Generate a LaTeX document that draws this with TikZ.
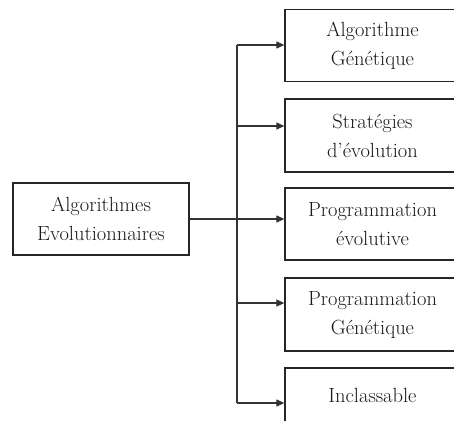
\documentclass[tikz,border=0pt]{standalone}
\usetikzlibrary{arrows.meta}
\begin{document}
\begin{tikzpicture}[x=1pt,y=-1pt,
  box/.style={draw=black!85, line width=1.3pt, minimum width=175pt, minimum height=72pt,
    align=center, inner sep=0pt, font=\fontsize{20.5}{29}\selectfont, text=black!90},
  conn/.style={line width=1.1pt, draw=black!80, -{Triangle[length=8pt,width=7pt]}},
  spine/.style={line width=1.1pt, draw=black!80}]
\useasboundingbox (0,0) rectangle (454,420);
\clip (0,0) rectangle (454,420);
\node[box, minimum width=176pt] (a) at (101,219) {Algorithmes\\Evolutionnaires};
\node[box] (b1) at (372.5,45.5) {Algorithme\\Génétique};
\node[box, minimum height=73pt] (b2) at (372.5,135.5) {Stratégies\\d'évolution};
\node[box] (b3) at (372.5,224) {Programmation\\évolutive};
\node[box, minimum height=73pt] (b4) at (372.5,314.5) {Programmation\\Génétique};
\node[box, minimum height=54pt] (b5) at (372.5,395) {Inclassable};
\coordinate (s1) at (237,45);
\coordinate (s2) at (237,126);
\coordinate (s4) at (237,303);
\coordinate (s5) at (237,403);
\draw[spine] (s1) -- (s5);
\draw[conn] (s1) -- (s1 -| b1.west);
\draw[conn] (s2) -- (s2 -| b2.west);
\draw[conn] (a.east) -- (a.east -| b3.west);
\draw[conn] (s4) -- (s4 -| b4.west);
\draw[conn] (s5) -- (s5 -| b5.west);
\end{tikzpicture}
\end{document}
